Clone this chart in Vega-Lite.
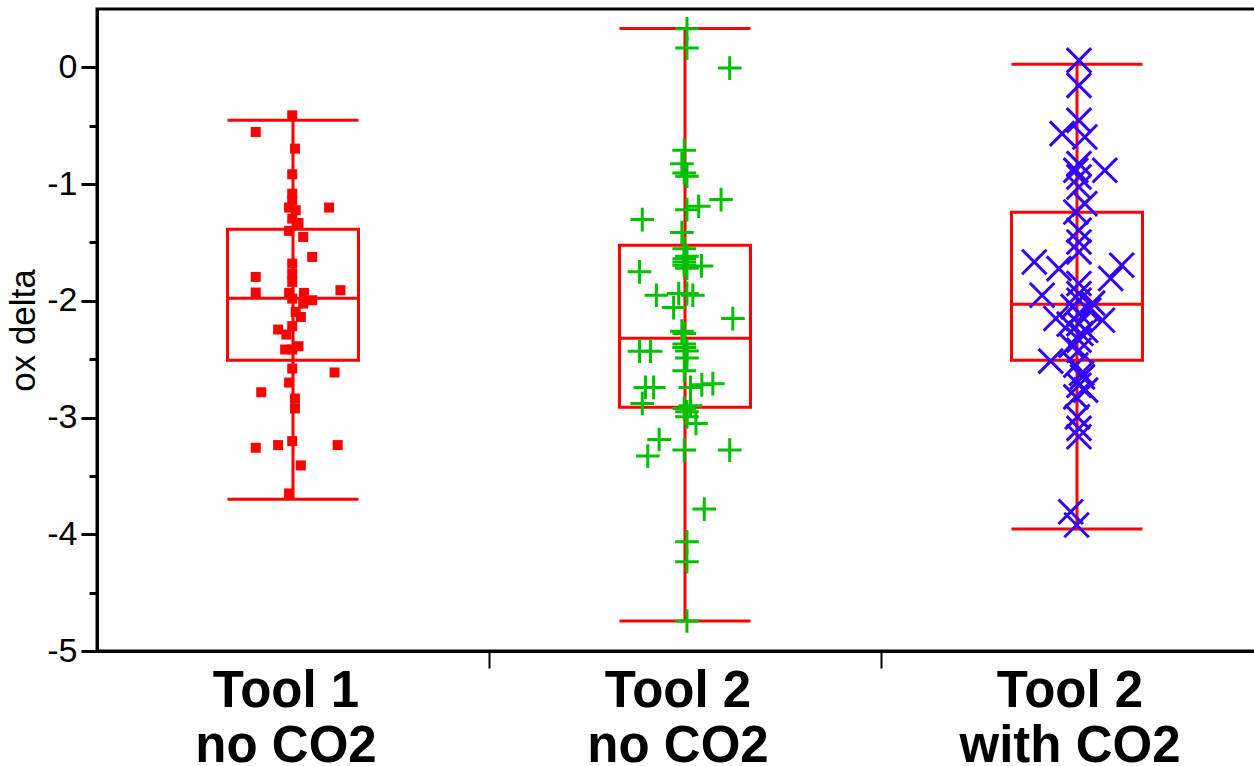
{
  "$schema": "https://vega.github.io/schema/vega-lite/v6.json",
  "width": 1176,
  "height": 642,
  "autosize": {"type": "none"},
  "padding": {"left": 97, "top": 9, "right": 0, "bottom": 115},
  "background": "white",
  "config": {
    "view": {"stroke": "black", "strokeWidth": 3},
    "font": "Liberation Sans",
    "axis": {"grid": false}
  },
  "datasets": {
    "box": [
      {"g": "Tool 1|no CO2", "lo": -3.699, "q1": -2.509, "med": -1.978, "q3": -1.387, "hi": -0.454},
      {"g": "Tool 2|no CO2", "lo": -4.743, "q1": -2.911, "med": -2.32, "q3": -1.524, "hi": 0.334},
      {"g": "Tool 2|with CO2", "lo": -3.955, "q1": -2.509, "med": -2.029, "q3": -1.241, "hi": 0.026}
    ],
    "pts": [
      {"g": "Tool 1|no CO2", "j": -0.002, "v": -0.411},
      {"g": "Tool 1|no CO2", "j": -0.095, "v": -0.554},
      {"g": "Tool 1|no CO2", "j": 0.005, "v": -0.696},
      {"g": "Tool 1|no CO2", "j": -0.002, "v": -0.916},
      {"g": "Tool 1|no CO2", "j": -0.002, "v": -1.082},
      {"g": "Tool 1|no CO2", "j": -0.002, "v": -1.139},
      {"g": "Tool 1|no CO2", "j": -0.01, "v": -1.201},
      {"g": "Tool 1|no CO2", "j": 0.007, "v": -1.224},
      {"g": "Tool 1|no CO2", "j": 0.092, "v": -1.201},
      {"g": "Tool 1|no CO2", "j": -0.002, "v": -1.296},
      {"g": "Tool 1|no CO2", "j": 0.014, "v": -1.333},
      {"g": "Tool 1|no CO2", "j": -0.01, "v": -1.401},
      {"g": "Tool 1|no CO2", "j": 0.026, "v": -1.453},
      {"g": "Tool 1|no CO2", "j": 0.049, "v": -1.624},
      {"g": "Tool 1|no CO2", "j": -0.095, "v": -1.795},
      {"g": "Tool 1|no CO2", "j": -0.002, "v": -1.681},
      {"g": "Tool 1|no CO2", "j": -0.002, "v": -1.767},
      {"g": "Tool 1|no CO2", "j": -0.002, "v": -1.838},
      {"g": "Tool 1|no CO2", "j": 0.121, "v": -1.909},
      {"g": "Tool 1|no CO2", "j": -0.095, "v": -1.929},
      {"g": "Tool 1|no CO2", "j": -0.01, "v": -1.932},
      {"g": "Tool 1|no CO2", "j": 0.028, "v": -1.932},
      {"g": "Tool 1|no CO2", "j": -0.002, "v": -1.981},
      {"g": "Tool 1|no CO2", "j": 0.049, "v": -1.995},
      {"g": "Tool 1|no CO2", "j": 0.026, "v": -2.024},
      {"g": "Tool 1|no CO2", "j": 0.007, "v": -2.095},
      {"g": "Tool 1|no CO2", "j": 0.02, "v": -2.138},
      {"g": "Tool 1|no CO2", "j": -0.002, "v": -2.217},
      {"g": "Tool 1|no CO2", "j": -0.038, "v": -2.246},
      {"g": "Tool 1|no CO2", "j": -0.017, "v": -2.289},
      {"g": "Tool 1|no CO2", "j": 0.014, "v": -2.389},
      {"g": "Tool 1|no CO2", "j": -0.02, "v": -2.417},
      {"g": "Tool 1|no CO2", "j": -0.002, "v": -2.417},
      {"g": "Tool 1|no CO2", "j": -0.002, "v": -2.58},
      {"g": "Tool 1|no CO2", "j": 0.106, "v": -2.614},
      {"g": "Tool 1|no CO2", "j": -0.01, "v": -2.7},
      {"g": "Tool 1|no CO2", "j": -0.081, "v": -2.783},
      {"g": "Tool 1|no CO2", "j": 0.005, "v": -2.837},
      {"g": "Tool 1|no CO2", "j": 0.005, "v": -2.922},
      {"g": "Tool 1|no CO2", "j": -0.002, "v": -3.202},
      {"g": "Tool 1|no CO2", "j": -0.095, "v": -3.259},
      {"g": "Tool 1|no CO2", "j": -0.038, "v": -3.236},
      {"g": "Tool 1|no CO2", "j": 0.114, "v": -3.236},
      {"g": "Tool 1|no CO2", "j": 0.02, "v": -3.41},
      {"g": "Tool 1|no CO2", "j": -0.01, "v": -3.65},

      {"g": "Tool 2|no CO2", "j": 0.005, "v": 0.331},
      {"g": "Tool 2|no CO2", "j": 0.005, "v": 0.165},
      {"g": "Tool 2|no CO2", "j": 0.114, "v": -0.006},
      {"g": "Tool 2|no CO2", "j": -0.002, "v": -0.711},
      {"g": "Tool 2|no CO2", "j": -0.008, "v": -0.825},
      {"g": "Tool 2|no CO2", "j": -0.002, "v": -0.905},
      {"g": "Tool 2|no CO2", "j": 0.005, "v": -0.933},
      {"g": "Tool 2|no CO2", "j": 0.035, "v": -1.19},
      {"g": "Tool 2|no CO2", "j": 0.092, "v": -1.133},
      {"g": "Tool 2|no CO2", "j": 0.005, "v": -1.219},
      {"g": "Tool 2|no CO2", "j": -0.109, "v": -1.304},
      {"g": "Tool 2|no CO2", "j": -0.008, "v": -1.415},
      {"g": "Tool 2|no CO2", "j": -0.002, "v": -1.553},
      {"g": "Tool 2|no CO2", "j": 0.005, "v": -1.618},
      {"g": "Tool 2|no CO2", "j": -0.002, "v": -1.64},
      {"g": "Tool 2|no CO2", "j": -0.002, "v": -1.667},
      {"g": "Tool 2|no CO2", "j": 0.042, "v": -1.701},
      {"g": "Tool 2|no CO2", "j": -0.002, "v": -1.695},
      {"g": "Tool 2|no CO2", "j": 0.005, "v": -1.72},
      {"g": "Tool 2|no CO2", "j": -0.116, "v": -1.752},
      {"g": "Tool 2|no CO2", "j": 0.005, "v": -1.938},
      {"g": "Tool 2|no CO2", "j": -0.073, "v": -1.952},
      {"g": "Tool 2|no CO2", "j": 0.02, "v": -1.952},
      {"g": "Tool 2|no CO2", "j": -0.016, "v": -1.938},
      {"g": "Tool 2|no CO2", "j": -0.029, "v": -2.058},
      {"g": "Tool 2|no CO2", "j": 0.122, "v": -2.152},
      {"g": "Tool 2|no CO2", "j": -0.008, "v": -2.26},
      {"g": "Tool 2|no CO2", "j": -0.002, "v": -2.28},
      {"g": "Tool 2|no CO2", "j": -0.002, "v": -2.37},
      {"g": "Tool 2|no CO2", "j": -0.116, "v": -2.432},
      {"g": "Tool 2|no CO2", "j": -0.088, "v": -2.432},
      {"g": "Tool 2|no CO2", "j": -0.002, "v": -2.4},
      {"g": "Tool 2|no CO2", "j": 0.005, "v": -2.43},
      {"g": "Tool 2|no CO2", "j": 0.005, "v": -2.489},
      {"g": "Tool 2|no CO2", "j": -0.002, "v": -2.6},
      {"g": "Tool 2|no CO2", "j": -0.101, "v": -2.742},
      {"g": "Tool 2|no CO2", "j": -0.08, "v": -2.742},
      {"g": "Tool 2|no CO2", "j": 0.014, "v": -2.742},
      {"g": "Tool 2|no CO2", "j": 0.043, "v": -2.72},
      {"g": "Tool 2|no CO2", "j": 0.071, "v": -2.71},
      {"g": "Tool 2|no CO2", "j": -0.109, "v": -2.879},
      {"g": "Tool 2|no CO2", "j": 0.014, "v": -2.9},
      {"g": "Tool 2|no CO2", "j": -0.002, "v": -2.922},
      {"g": "Tool 2|no CO2", "j": 0.005, "v": -2.95},
      {"g": "Tool 2|no CO2", "j": 0.005, "v": -2.994},
      {"g": "Tool 2|no CO2", "j": 0.028, "v": -3.051},
      {"g": "Tool 2|no CO2", "j": -0.066, "v": -3.188},
      {"g": "Tool 2|no CO2", "j": -0.095, "v": -3.33},
      {"g": "Tool 2|no CO2", "j": -0.002, "v": -3.279},
      {"g": "Tool 2|no CO2", "j": 0.114, "v": -3.279},
      {"g": "Tool 2|no CO2", "j": 0.049, "v": -3.784},
      {"g": "Tool 2|no CO2", "j": 0.005, "v": -4.064},
      {"g": "Tool 2|no CO2", "j": 0.005, "v": -4.235},
      {"g": "Tool 2|no CO2", "j": 0.005, "v": -4.743},

      {"g": "Tool 2|with CO2", "j": 0.005, "v": 0.06},
      {"g": "Tool 2|with CO2", "j": 0.005, "v": -0.154},
      {"g": "Tool 2|with CO2", "j": 0.005, "v": -0.454},
      {"g": "Tool 2|with CO2", "j": -0.038, "v": -0.568},
      {"g": "Tool 2|with CO2", "j": 0.02, "v": -0.597},
      {"g": "Tool 2|with CO2", "j": 0.005, "v": -0.825},
      {"g": "Tool 2|with CO2", "j": 0.071, "v": -0.882},
      {"g": "Tool 2|with CO2", "j": -0.003, "v": -0.882},
      {"g": "Tool 2|with CO2", "j": 0.005, "v": -0.939},
      {"g": "Tool 2|with CO2", "j": 0.005, "v": -1.025},
      {"g": "Tool 2|with CO2", "j": 0.02, "v": -1.167},
      {"g": "Tool 2|with CO2", "j": -0.003, "v": -1.239},
      {"g": "Tool 2|with CO2", "j": 0.005, "v": -1.396},
      {"g": "Tool 2|with CO2", "j": 0.005, "v": -1.496},
      {"g": "Tool 2|with CO2", "j": 0.005, "v": -1.581},
      {"g": "Tool 2|with CO2", "j": -0.109, "v": -1.667},
      {"g": "Tool 2|with CO2", "j": 0.114, "v": -1.695},
      {"g": "Tool 2|with CO2", "j": -0.046, "v": -1.724},
      {"g": "Tool 2|with CO2", "j": 0.086, "v": -1.809},
      {"g": "Tool 2|with CO2", "j": -0.089, "v": -1.952},
      {"g": "Tool 2|with CO2", "j": 0.005, "v": -1.852},
      {"g": "Tool 2|with CO2", "j": 0.005, "v": -1.938},
      {"g": "Tool 2|with CO2", "j": 0.005, "v": -1.995},
      {"g": "Tool 2|with CO2", "j": 0.04, "v": -2.02},
      {"g": "Tool 2|with CO2", "j": -0.01, "v": -2.05},
      {"g": "Tool 2|with CO2", "j": 0.03, "v": -2.08},
      {"g": "Tool 2|with CO2", "j": -0.054, "v": -2.152},
      {"g": "Tool 2|with CO2", "j": 0.065, "v": -2.166},
      {"g": "Tool 2|with CO2", "j": 0.005, "v": -2.109},
      {"g": "Tool 2|with CO2", "j": 0.005, "v": -2.195},
      {"g": "Tool 2|with CO2", "j": -0.02, "v": -2.2},
      {"g": "Tool 2|with CO2", "j": 0.022, "v": -2.252},
      {"g": "Tool 2|with CO2", "j": 0.01, "v": -2.28},
      {"g": "Tool 2|with CO2", "j": 0.005, "v": -2.337},
      {"g": "Tool 2|with CO2", "j": -0.015, "v": -2.38},
      {"g": "Tool 2|with CO2", "j": -0.067, "v": -2.517},
      {"g": "Tool 2|with CO2", "j": 0.005, "v": -2.423},
      {"g": "Tool 2|with CO2", "j": -0.003, "v": -2.551},
      {"g": "Tool 2|with CO2", "j": 0.012, "v": -2.62},
      {"g": "Tool 2|with CO2", "j": 0.014, "v": -2.652},
      {"g": "Tool 2|with CO2", "j": 0.005, "v": -2.723},
      {"g": "Tool 2|with CO2", "j": 0.022, "v": -2.765},
      {"g": "Tool 2|with CO2", "j": -0.003, "v": -2.823},
      {"g": "Tool 2|with CO2", "j": 0.001, "v": -2.994},
      {"g": "Tool 2|with CO2", "j": 0.005, "v": -3.093},
      {"g": "Tool 2|with CO2", "j": 0.005, "v": -3.165},
      {"g": "Tool 2|with CO2", "j": -0.016, "v": -3.807},
      {"g": "Tool 2|with CO2", "j": -0.001, "v": -3.921}
    ]
  },
  "encoding": {
    "x": {
      "field": "g",
      "type": "nominal",
      "sort": ["Tool 1|no CO2", "Tool 2|no CO2", "Tool 2|with CO2"],
      "scale": {"paddingInner": 0, "paddingOuter": 0},
      "axis": {
        "title": null,
        "labelExpr": "split(datum.label, '|')",
        "labelAngle": 0,
        "labelLimit": 0,
        "labelFont": "Liberation Sans",
        "labelFontSize": 51,
        "labelFontWeight": "bold",
        "labelColor": "black",
        "labelLineHeight": 55,
        "labelPadding": -2,
        "labelOffset": -7,
        "bandPosition": 0,
        "tickSize": 17,
        "tickWidth": 2,
        "tickColor": {"condition": {"test": "datum.value === 'Tool 1|no CO2'", "value": "transparent"}, "value": "black"},
        "domainColor": "black",
        "domainWidth": 3,
        "grid": false
      }
    }
  },
  "layer": [
    {
      "data": {"name": "box"},
      "mark": {"type": "rule", "color": "#ff0000", "strokeWidth": 3},
      "encoding": {
        "y": {
          "field": "lo",
          "type": "quantitative",
          "scale": {"domain": [-5, 0.5], "nice": false, "zero": false},
          "axis": {
            "title": "ox delta",
            "values": [-5, -4.5, -4, -3.5, -3, -2.5, -2, -1.5, -1, -0.5, 0],
            "labelExpr": "datum.value % 1 === 0 ? toString(datum.value) : ''",
            "labelFont": "Liberation Sans",
            "labelFontSize": 34,
            "labelColor": "black",
            "labelPadding": 4,
            "tickSize": 16,
            "tickWidth": 3,
            "tickColor": "black",
            "tickDash": {"condition": {"test": "datum.value % 1 !== 0", "value": [8, 40]}, "value": [40, 0]},
            "domainColor": "black",
            "domainWidth": 3,
            "titleFont": "Liberation Sans",
            "titleFontSize": 35,
            "titleFontWeight": "normal",
            "titleColor": "black",
            "titlePadding": 5,
            "grid": false
          }
        },
        "y2": {"field": "hi"}
      }
    },
    {
      "data": {"name": "box"},
      "mark": {"type": "bar", "width": 131, "fill": "transparent", "stroke": "#ff0000", "strokeWidth": 3},
      "encoding": {
        "y": {"field": "q1", "type": "quantitative"},
        "y2": {"field": "q3"}
      }
    },
    {
      "data": {"name": "box"},
      "mark": {"type": "tick", "orient": "horizontal", "size": 131, "thickness": 3, "color": "#ff0000", "opacity": 1},
      "encoding": {"y": {"field": "med", "type": "quantitative"}}
    },
    {
      "data": {"name": "box"},
      "mark": {"type": "tick", "orient": "horizontal", "size": 131, "thickness": 3, "color": "#ff0000", "opacity": 1},
      "encoding": {"y": {"field": "lo", "type": "quantitative"}}
    },
    {
      "data": {"name": "box"},
      "mark": {"type": "tick", "orient": "horizontal", "size": 131, "thickness": 3, "color": "#ff0000", "opacity": 1},
      "encoding": {"y": {"field": "hi", "type": "quantitative"}}
    },
    {
      "data": {"name": "pts"},
      "transform": [{"filter": "datum.g === 'Tool 1|no CO2'"}],
      "mark": {"type": "point", "shape": "square", "filled": true, "size": 100, "color": "#ff0000", "opacity": 1},
      "encoding": {
        "xOffset": {"field": "j", "type": "quantitative", "scale": {"domain": [-0.5, 0.5]}},
        "y": {"field": "v", "type": "quantitative"}
      }
    },
    {
      "data": {"name": "pts"},
      "transform": [{"filter": "datum.g === 'Tool 2|no CO2'"}],
      "mark": {"type": "point", "shape": "M-1,0L1,0M0,-1L0,1", "filled": false, "size": 560, "color": "#00c000", "strokeWidth": 3, "opacity": 1},
      "encoding": {
        "xOffset": {"field": "j", "type": "quantitative", "scale": {"domain": [-0.5, 0.5]}},
        "y": {"field": "v", "type": "quantitative"}
      }
    },
    {
      "data": {"name": "pts"},
      "transform": [{"filter": "datum.g === 'Tool 2|with CO2'"}],
      "mark": {"type": "point", "shape": "M-1,-1L1,1M-1,1L1,-1", "filled": false, "size": 600, "color": "#3300ff", "strokeWidth": 3, "opacity": 1},
      "encoding": {
        "xOffset": {"field": "j", "type": "quantitative", "scale": {"domain": [-0.5, 0.5]}},
        "y": {"field": "v", "type": "quantitative"}
      }
    }
  ]
}
